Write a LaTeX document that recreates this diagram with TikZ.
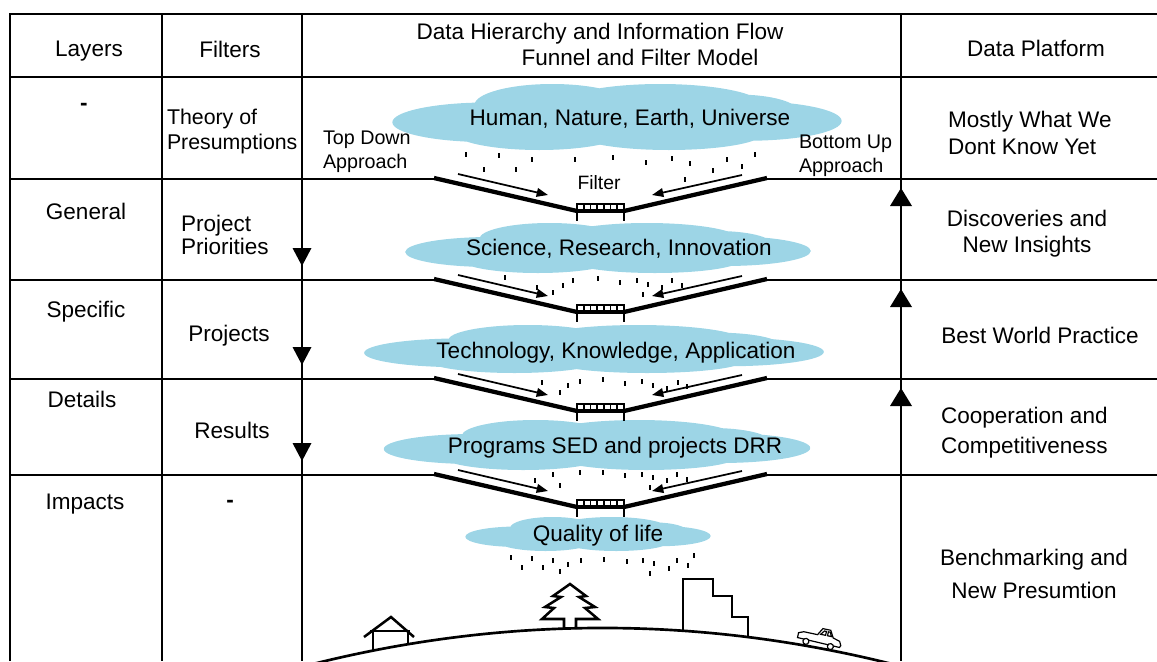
\documentclass[tikz,border=0pt]{standalone}
\usepackage{fontspec}
\setmainfont{Liberation Sans}
\usetikzlibrary{arrows.meta}
\definecolor{cloudblue}{RGB}{157,213,230}

% one puffy cloud, normalised to a 100 x 100 box around (cx,cy)
\newcommand\puffcloud[4]{%
  \begin{scope}[shift={(#1,#2)}, xscale=#3/100, yscale=#4/100]
    \fill[cloudblue]
      (0,0) ellipse [x radius=38, y radius=34]
      (-30,8) ellipse [x radius=22, y radius=30]
      (30,6) ellipse [x radius=22, y radius=30]
      (-40,10) ellipse [x radius=10, y radius=22]
      (40,8) ellipse [x radius=10, y radius=22]
      (-15,-18) ellipse [x radius=18, y radius=32]
      (10,-16) ellipse [x radius=24, y radius=34]
      (28,-8) ellipse [x radius=14, y radius=26]
      (-18,22) ellipse [x radius=20, y radius=28]
      (12,24) ellipse [x radius=22, y radius=26];
  \end{scope}}

\tikzset{
  every node/.style={inner sep=0pt, outer sep=0pt},
  lbl/.style={font=\fontsize{16.9}{19}\selectfont},
  dashlbl/.style={font=\fontsize{16.9}{19}\selectfont\bfseries},
  smalllbl/.style={font=\fontsize{14.8}{18}\selectfont},
  grid/.style={line width=1.6pt},
  funnel/.style={line width=3.2pt},
  flow/.style={line width=1.3pt, -{Triangle[length=8.5pt,width=6.5pt]}},
  drop/.style={line width=1.4pt},
  scene/.style={line width=1.9pt, line join=miter},
}

\begin{document}
\begin{tikzpicture}[x=0.75pt,y=-0.75pt]
\useasboundingbox (0,0) rectangle (1157,661);

% ---------- clouds ----------
\puffcloud{617}{117}{432}{66}
\puffcloud{608}{248}{390}{50}
\puffcloud{594}{349}{442}{48}
\puffcloud{597}{445}{410}{50}
\puffcloud{588}{534}{236}{34}

% ---------- rain below the clouds ----------
\foreach \x/\y in {466/152,499/153,532/157,575/157,613/155,646/160,672/156,690/161,727/157,755/152,
                   484/167,516/167,713/168,742/164,685/177,
                   505/275,537/285,553/290,563/283,573/278,598/276,620/280,637/278,648/282,662/285,672/278,682/283,643/292,
                   542/380,560/390,568/383,580/379,603/377,625/381,642/379,653/383,667/386,678/380,687/384,
                   535/478,553/472,560/483,580/470,603/470,625/473,642/472,653/475,667/478,677/472,687/477,650/485,
                   511/555,532/556,553/558,568/562,581/558,604/557,627/559,643/558,654/561,677/558,694/553,
                   522/565,543/565,560/569,650/571,669/566,688/563}
  \draw[drop] (\x,\y) -- ++(0,5);

% ---------- table frame ----------
\draw[grid] (10,661) -- (10,14) -- (1157,14);
\draw[grid] (10,77) -- (1157,77);
\draw[grid] (162,14) -- (162,661);
\draw[grid] (302,14) -- (302,661);
\draw[grid] (901,14) -- (901,661);

% ---------- row lines, funnels, filters and flow arrows ----------
\foreach \L/\n in {179/1,280/2,379/3,475/4} {
  \draw[grid] (10,\L) -- (434,\L);
  \draw[grid] (767,\L) -- (1157,\L);
  \coordinate (fl\n) at (434,\L-1);
  \coordinate (fa\n) at (577,\L+32);
  \coordinate (fb\n) at (624,\L+32);
  \coordinate (fr\n) at (767,\L-1);
  \draw[funnel] (fl\n) -- (fa\n);
  \draw[funnel] (fb\n) -- (fr\n);
  % filter grate
  \fill (577,\L+30) rectangle (624,\L+33);
  \draw[line width=1.2pt] (577,\L+25) rectangle (624,\L+33);
  \foreach \k in {1,...,6}
    \draw[line width=1.2pt] (577+\k*6.7,\L+25) -- (577+\k*6.7,\L+31);
  \draw[line width=1.4pt] (577,\L+25) -- (577,\L+42);
  \draw[line width=1.4pt] (624,\L+25) -- (624,\L+42);
  % converging arrows
  \coordinate (ls\n) at (458,\L-5);
  \coordinate (le\n) at (548,\L+16);
  \coordinate (rs\n) at (742,\L-4);
  \coordinate (re\n) at (652,\L+16);
  \draw[flow] (ls\n) -- (le\n);
  \draw[flow] (rs\n) -- (re\n);
}

% ---------- direction markers on the column lines ----------
\foreach \L in {280,379,475}
  \fill (292.5,\L-32) -- (311.5,\L-32) -- (302,\L-14) -- cycle;
\foreach \L in {179,280,379}
  \fill (890,\L+27) -- (912,\L+27) -- (901,\L+9) -- cycle;

% ---------- header ----------
\node[lbl] (hLayers) at (89,51) {Layers};
\node[lbl] (hFilters) at (230,49) {Filters};
\node[lbl] (hTitleA) at (600,34) {Data Hierarchy and Information Flow};
\node[lbl] (hTitleB) at (640,57) {Funnel and Filter Model};
\node[lbl] (hPlatform) at (1036,48) {Data Platform};

% ---------- layers column ----------
\node[dashlbl] (layer0) at (84,107) {-};
\node[lbl] (layer1) at (86,211) {General};
\node[lbl] (layer2) at (86,312) {Specific};
\node[lbl] (layer3) at (82,399) {Details};
\node[lbl] (layer4) at (85,504) {Impacts};

% ---------- filters column ----------
\node[anchor=west, align=left, font=\fontsize{16}{18.75}\selectfont] (filter0) at (167,131.5) {Theory of\\Presumptions};
\node[anchor=west, align=left, font=\fontsize{16.9}{17.25}\selectfont] (filter1) at (181,234.5) {Project\\Priorities};
\node[lbl] (filter2) at (229,336) {Projects};
\node[lbl] (filter3) at (232,430) {Results};
\node[dashlbl] (filter4) at (230,504) {-};

% ---------- middle column labels ----------
\node[smalllbl, anchor=west, align=left] (topdown) at (323,152) {Top Down\\Approach};
\node[smalllbl, anchor=west, align=left] (bottomup) at (799,155.5) {Bottom Up\\Approach};
\node[font=\fontsize{14.5}{17}\selectfont] (filterlbl) at (599,183) {Filter};

\node[lbl] (cloudA) at (630,119) {Human, Nature, Earth, Universe};
\node[lbl] (cloudB) at (619,249) {Science, Research, Innovation};
\node[lbl] (cloudC) at (616,353) {Technology, Knowledge, Application};
\node[lbl] (cloudD) at (615,448) {Programs SED and projects DRR};
\node[lbl] (cloudE) at (598,536) {Quality of life};

% ---------- data platform column ----------
\node[anchor=west, align=left, font=\fontsize{16.9}{20.25}\selectfont] (plat0) at (948,132.5) {Mostly What We\\Dont Know Yet};
\node[align=center, font=\fontsize{16.9}{19.5}\selectfont] (plat1) at (1027,234) {Discoveries and\\New Insights};
\node[lbl] (plat2) at (1040,335) {Best World Practice};
\node[anchor=west, align=left, font=\fontsize{16.9}{22.5}\selectfont] (plat3) at (941,433) {Cooperation and\\Competitiveness};
\node[align=center, font=\fontsize{16.9}{24.75}\selectfont] (plat4) at (1034,573.5) {Benchmarking and\\New Presumtion};

% ---------- ground and scenery ----------
\draw[line width=2pt] (305,666) .. controls (503,615.3) and (702,615.3) .. (900,666);
% house
\draw[scene] (364,637) -- (391,617) -- (414,637);
\draw[scene] (370,631) -- (410,631);
\draw[scene] (373,631) -- (373,651);
\draw[scene] (408,631) -- (408,645);
% fir tree
\draw[scene] (576,629) -- (576,619) -- (598,619) -- (585,608) -- (595,607) -- (579,597) -- (586,596)
  -- (570,584) -- (553,596) -- (561,597) -- (545,607) -- (554,608) -- (542,619) -- (564,619) -- (564,629);
% stepped building
\draw[scene] (683,631) -- (683,579) -- (713,579) -- (713,596) -- (732,596) -- (732,617) -- (748,617) -- (748,637);
% small car on the slope
\begin{scope}[shift={(818,647)}, rotate=-12, line width=0.9pt]
  \draw[fill=white] (-22,-5) -- (-22,-10) -- (-17,-12) -- (-3,-12) -- (1,-19) -- (9,-19) -- (13,-12)
    -- (20,-10) -- (22,-6) -- (21,-4) -- cycle;
  \draw (0,-13) -- (3,-17) -- (5,-17) -- (5,-13) -- cycle;
  \draw (7,-13) -- (7,-17) -- (9,-17) -- (11,-13) -- cycle;
  \draw[fill=white] (-13,-3) circle [radius=3];
  \draw[fill=white] (12,-3) circle [radius=3];
\end{scope}
\end{tikzpicture}
\end{document}
